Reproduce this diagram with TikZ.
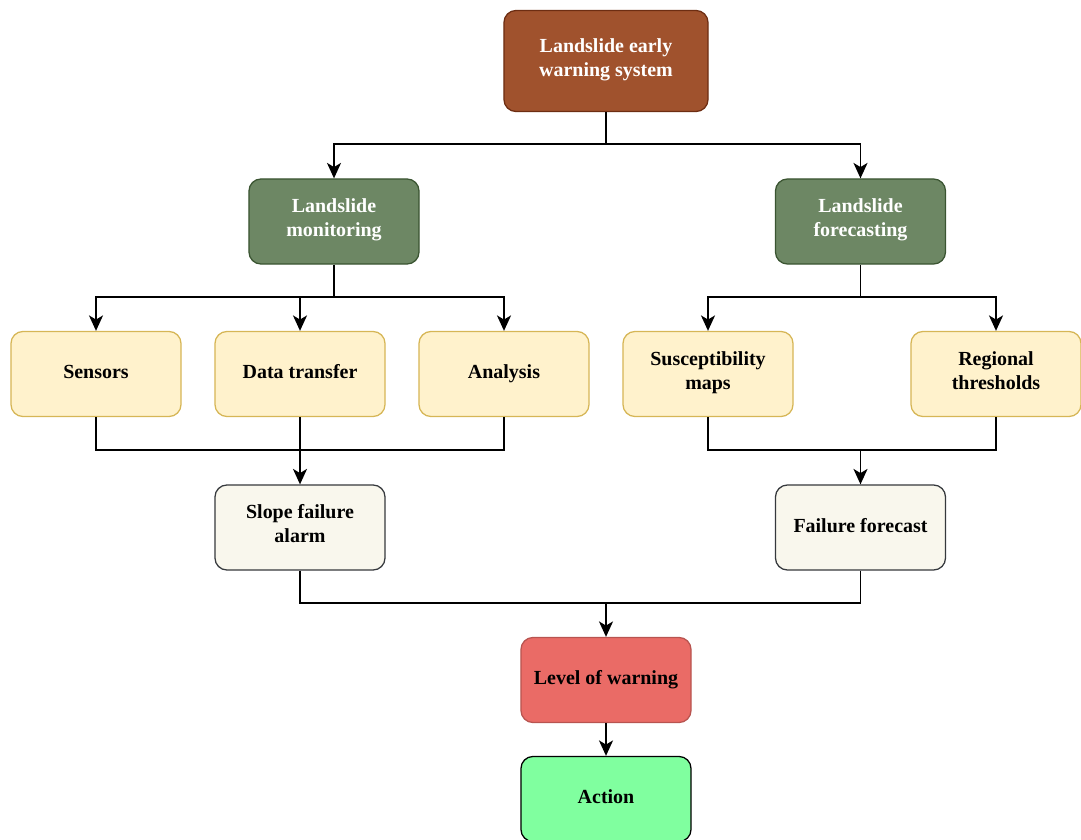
\documentclass[tikz,border=0pt]{standalone}
\usepackage{fontspec}
\setmainfont{Liberation Serif}
\usetikzlibrary{arrows.meta}

\definecolor{rootfill}{HTML}{A0522D}
\definecolor{rootline}{HTML}{6D2D12}
\definecolor{branchfill}{HTML}{6D8764}
\definecolor{branchline}{HTML}{3A5431}
\definecolor{partfill}{HTML}{FFF2CC}
\definecolor{partline}{HTML}{D6B656}
\definecolor{outfill}{HTML}{F9F7ED}
\definecolor{outline}{HTML}{36393D}
\definecolor{levelfill}{HTML}{EA6B66}
\definecolor{levelline}{HTML}{B85450}
\definecolor{actfill}{HTML}{80FF9F}

\tikzset{
  box/.style={draw, rounded corners=0.3cm, line width=0.9pt, align=center,
    minimum width=4.25cm, minimum height=2.125cm,
    execute at begin node=\strut, execute at end node=\strut,
    font=\fontsize{14.2}{17}\selectfont\bfseries},
  rootbox/.style={box, fill=rootfill, draw=rootline, text=white,
    minimum width=5.1cm, minimum height=2.525cm},
  branchbox/.style={box, fill=branchfill, draw=branchline, text=white},
  partbox/.style={box, fill=partfill, draw=partline},
  outbox/.style={box, fill=outfill, draw=outline},
  levelbox/.style={box, fill=levelfill, draw=levelline},
  actbox/.style={box, fill=actfill, draw=black},
  link/.style={line width=1.2pt},
  arrow/.style={link, -{Stealth[length=11pt,width=10pt,inset=3pt]}}
}

\begin{document}
\begin{tikzpicture}[x=0.025cm, y=-0.025cm]
  \useasboundingbox (0,0) rectangle (1081,840);

  % Boxes
  \node[rootbox] (lews) at (606,61) {Landslide early\\warning system};
  \node[branchbox] (mon) at (334,221.5) {Landslide\\monitoring};
  \node[branchbox] (fore) at (860.5,221.5) {Landslide\\forecasting};

  \node[partbox] (sens) at (96,374) {Sensors};
  \node[partbox] (data) at (300,374) {Data transfer};
  \node[partbox] (anal) at (504,374) {Analysis};
  \node[partbox] (susc) at (708,374) {Susceptibility\\maps};
  \node[partbox] (thre) at (996,374) {Regional\\thresholds};

  \node[outbox] (alarm) at (300,527.5) {Slope failure\\alarm};
  \node[outbox] (fcast) at (860.5,527.5) {Failure forecast};

  \node[levelbox] (level) at (606,680) {Level of warning};
  \node[actbox] (act) at (606,799) {Action};

  % Junctions
  \coordinate (j1) at (606,144);
  \coordinate (j2) at (334,297);
  \coordinate (j3) at (860.5,297);
  \coordinate (j4) at (300,450);
  \coordinate (j5) at (860.5,450);
  \coordinate (j6) at (606,603);

  % Connectors
  \draw[link] (lews.south) -- (j1);
  \draw[arrow] (j1) -| (mon.north);
  \draw[arrow] (j1) -| (fore.north);

  \draw[link] (mon.south) -- (j2);
  \draw[arrow] (j2) -| (sens.north);
  \draw[arrow] (j2) -| (anal.north);
  \draw[arrow] (data.north |- j2) -- (data.north);

  \draw[link] (fore.south) -- (j3);
  \draw[arrow] (j3) -| (susc.north);
  \draw[arrow] (j3) -| (thre.north);

  \draw[link] (sens.south) |- (j4);
  \draw[link] (anal.south) |- (j4);
  \draw[arrow] (data.south) -- (alarm.north);

  \draw[link] (susc.south) |- (j5);
  \draw[link] (thre.south) |- (j5);
  \draw[arrow] (j5) -- (fcast.north);

  \draw[link] (alarm.south) |- (j6);
  \draw[link] (fcast.south) |- (j6);
  \draw[arrow] (j6) -- (level.north);

  \draw[arrow] (level.south) -- (act.north);
\end{tikzpicture}
\end{document}
